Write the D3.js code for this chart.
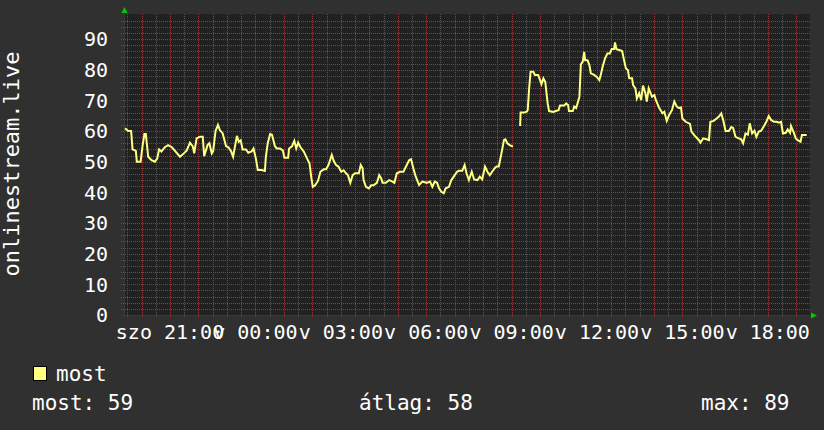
<!DOCTYPE html>
<html>
<head>
<meta charset="utf-8">
<script src="https://cdn.jsdelivr.net/npm/d3@7"></script>
<style>
	body { margin: 0; background: #303030; }
	svg { display: block; }
	text { font-family: "DejaVu Sans Mono", monospace; fill: #ffffff; }
</style>
</head>
<body>
<svg id="chart" width="824" height="430"></svg>
<script>
// minutes after the window start (szo 19:23) and the "most" value read at that time
var minutes = [2, 8, 15, 18, 25, 27, 35, 39, 43, 46, 51, 58, 65, 70, 74, 79, 86, 93, 101, 107,
	118, 126, 132, 139, 145, 148, 153, 160, 166, 169, 176, 180, 185, 188, 193, 198, 202, 208, 215, 220,
	226, 230, 238, 242, 246, 250, 257, 262, 269, 273, 278, 282, 290, 297, 299, 303, 308, 312, 318, 322,
	329, 335, 338, 346, 348, 354, 359, 363, 367, 372, 379, 386, 391, 395, 398, 403, 409, 414, 421, 426,
	431, 438, 442, 447, 452, 458, 463, 468, 472, 477, 482, 487, 495, 499, 503, 505, 510, 516, 521, 526,
	533, 538, 542, 545, 552, 559, 565, 570, 575, 582, 589, 596, 601, 605, 610, 615, 622, 629, 638, 645,
	650, 655, 660, 664, 669, 674, 678, 685, 690, 695, 702, 706, 713, 718, 722, 727, 733, 738, 745, 750,
	755, 761, 766, 771, 776, 781, 785, 790, 795, 801, 804, 808, 813, 820, 826, 835, 836, 843, 849, 851,
	854, 857, 863, 866, 873, 877, 880, 884, 888, 893, 896, 905, 910, 916, 919, 928, 932, 936, 938, 946,
	949, 953, 956, 960, 963, 967, 970, 972, 977, 981, 984, 991, 996, 1002, 1005, 1009, 1014, 1019, 1024, 1028,
	1033, 1035, 1038, 1044, 1050, 1054, 1058, 1062, 1065, 1071, 1073, 1078, 1081, 1086, 1090, 1094, 1099, 1102, 1106, 1113,
	1118, 1121, 1128, 1135, 1139, 1144, 1149, 1155, 1160, 1165, 1169, 1174, 1177, 1184, 1193, 1196, 1205, 1212, 1215, 1221,
	1228, 1233, 1236, 1243, 1249, 1254, 1259, 1263, 1268, 1275, 1280, 1284, 1289, 1296, 1301, 1305, 1310, 1315, 1319, 1324,
	1329, 1333, 1338, 1343, 1349, 1354, 1359, 1364, 1370, 1376, 1380, 1385, 1389, 1395, 1399, 1404, 1406, 1412, 1416, 1420,
	1426, 1429, 1439];
var most = [60.9, 60.1, 60.0, 54.0, 53.5, 50.0, 50.0, 55.0, 59.0, 59.0, 51.6, 50.5, 50.0, 51.0, 54.0, 53.3, 54.7, 55.4, 54.7, 53.6,
	51.6, 52.7, 53.6, 56.2, 55.0, 52.7, 57.6, 58.1, 58.1, 51.8, 55.4, 56.0, 52.7, 53.5, 60.0, 62.0, 60.3, 59.2, 55.1, 54.7,
	53.3, 51.6, 58.4, 56.5, 57.0, 54.0, 54.0, 52.9, 53.3, 54.3, 51.0, 47.3, 47.3, 47.0, 51.6, 56.0, 59.0, 58.8, 55.1, 54.3,
	54.3, 53.6, 51.3, 51.3, 54.3, 55.0, 56.8, 54.3, 56.2, 54.7, 53.3, 51.0, 49.5, 44.6, 41.8, 42.3, 43.8, 46.7, 47.5, 47.5,
	48.9, 52.2, 50.3, 48.9, 48.4, 46.7, 47.2, 46.2, 45.6, 43.1, 45.6, 46.2, 46.2, 48.9, 47.8, 44.0, 41.8, 41.3, 42.3, 42.3,
	43.1, 45.6, 44.6, 43.1, 43.1, 44.0, 43.6, 43.1, 46.2, 46.7, 46.7, 48.9, 50.5, 50.8, 47.8, 45.1, 42.4, 43.5, 43.1, 43.5,
	41.8, 43.5, 43.1, 41.3, 40.2, 39.7, 41.3, 41.8, 44.0, 45.1, 46.7, 47.0, 47.0, 48.9, 46.2, 44.0, 46.7, 44.2, 44.0, 45.1,
	44.2, 48.4, 46.7, 45.6, 46.7, 47.8, 48.4, 48.4, 52.2, 57.1, 57.3, 56.0, 55.4, 54.9, null, 61.6, 66.0, 66.0, 66.3, 66.8,
	73.9, 79.3, 79.3, 78.3, 78.3, 76.6, 75.3, 77.2, 76.0, 69.0, 66.5, 66.2, 66.5, 66.8, 68.3, 68.3, 69.0, 68.5, 66.5, 66.5,
	68.0, 67.5, 69.0, 71.2, 81.7, 82.6, 85.8, 83.1, 83.1, 81.5, 78.8, 78.3, 77.7, 76.6, 78.3, 81.0, 83.7, 85.3, 85.3, 86.7,
	86.7, 88.9, 86.7, 86.4, 86.1, 83.1, 80.4, 79.9, 77.2, 77.2, 75.0, 73.9, 70.6, 72.3, 70.1, 74.8, 72.3, 69.6, 73.9, 71.2,
	71.7, 70.1, 67.6, 65.8, 66.3, 63.3, 65.2, 66.8, 69.6, 68.0, 67.5, 67.7, 64.1, 63.0, 62.3, 59.8, 58.1, 57.0, 56.2, 57.6,
	57.3, 57.0, 63.0, 63.3, 64.1, 64.7, 65.7, 63.6, 60.0, 60.0, 61.3, 61.0, 58.1, 57.6, 57.3, 56.0, 59.2, 58.8, 62.5, 59.2,
	60.1, 58.1, 59.8, 60.1, 61.6, 63.0, 64.9, 63.6, 63.0, 63.0, 62.7, 63.0, 59.2, 59.4, 60.5, 59.4, 61.6, 59.4, 57.6, 57.0,
	56.5, 58.7, 58.7];
var yTicks = [0, 10, 20, 30, 40, 50, 60, 70, 80, 90];
var dayNames = ["v", "h", "k", "sze", "cs", "p", "szo"];
var statNames = ["most", "átlag", "max"];
var statValues = [59, 58, 89];
var seriesName = "most";
var title = "onlinestream.live";

var startTime = new Date(2024, 2, 2, 19, 23);
var endTime = d3.timeMinute.offset(startTime, 1446);

var plotLeft = 124, plotRight = 810, plotTop = 14, plotBottom = 315;
var lineColor = "#ffff80";
var minorColor = "#555555", majorColor = "#8c3c3c";

var svg = d3.select("#chart");

var x = d3.scaleTime().domain([startTime, endTime]).range([plotLeft, plotRight]);
var y = d3.scaleLinear().domain([0, 98.15]).range([plotBottom, plotTop]);

var data = minutes.map(function (m, i) {
	return { t: d3.timeMinute.offset(startTime, m), v: most[i] };
});

// plot background
svg.append("rect")
	.attr("x", plotLeft).attr("y", plotTop)
	.attr("width", plotRight - plotLeft).attr("height", plotBottom - plotTop)
	.attr("fill", "#212121");

// dotted grid lines, built pixel by pixel so every dot lands on a whole pixel
function dotsH(rows) {
	var d = "";
	rows.forEach(function (r) {
		for (var px = plotLeft - 3; px < plotRight; px += 2) d += "M" + px + "," + r + "h1v1h-1z";
	});
	return d;
}
function dotsV(cols) {
	var d = "";
	cols.forEach(function (c) {
		for (var py = plotTop; py < plotBottom + 3; py += 2) d += "M" + c + "," + py + "h1v1h-1z";
	});
	return d;
}
var grid = svg.append("g").attr("shape-rendering", "crispEdges");

// minor grid: every 2 units and every half hour
var yMinor = d3.range(2, 98, 2).filter(function (d) { return d % 10 !== 0; });
var xMinor = d3.timeMinute.every(30).range(startTime, endTime).filter(function (d) { return d.getMinutes() === 30; });
// major grid: every 10 units and every hour
var xMajor = d3.timeHour.every(1).range(startTime, endTime);

var rowOf = function (v) { return Math.round(y(v)); };
var colOf = function (t) { return Math.round(x(t)); };

grid.append("path").attr("d", dotsH(yMinor.map(rowOf)) + dotsV(xMinor.map(colOf))).attr("fill", minorColor);
grid.append("path").attr("d", dotsH(yTicks.slice(1).map(rowOf)) + dotsV(xMajor.map(colOf))).attr("fill", majorColor);

// axes
grid.append("rect")
	.attr("x", plotLeft).attr("y", plotTop - 2).attr("width", 1).attr("height", plotBottom - plotTop + 3)
	.attr("fill", "#3a3a3a");
grid.append("rect")
	.attr("x", plotLeft - 2).attr("y", plotBottom).attr("width", plotRight - plotLeft + 4).attr("height", 1)
	.attr("fill", "#3a3a3a");

svg.append("path")
	.attr("d", "M" + (plotLeft - 2.5) + "," + (plotTop - 1) + "l3,-6l3,6z")
	.attr("fill", "#00cc00");
svg.append("path")
	.attr("d", "M" + (plotRight + 1) + "," + (plotBottom - 2.5) + "l6,3l-6,3z")
	.attr("fill", "#00cc00");

// series
var line = d3.line()
	.defined(function (d) { return d.v !== null; })
	.x(function (d) { return x(d.t); })
	.y(function (d) { return y(d.v); });

svg.append("path")
	.datum(data)
	.attr("d", line)
	.attr("fill", "none")
	.attr("stroke", lineColor)
	.attr("stroke-width", 2)
	.attr("stroke-linejoin", "miter");

// tick labels
svg.selectAll("text.ylabel").data(yTicks).enter().append("text")
	.attr("x", 108)
	.attr("y", function (d) { return y(d); })
	.attr("dy", "0.36em")
	.attr("text-anchor", "end")
	.attr("font-size", 20)
	.text(function (d) { return d; });

var fmtTime = d3.timeFormat("%H:%M");
var xLabels = d3.timeHour.every(3).range(startTime, endTime);
svg.selectAll("text.xlabel").data(xLabels).enter().append("text")
	.attr("x", function (d) { return x(d); })
	.attr("y", 339)
	.attr("text-anchor", "middle")
	.attr("font-size", 20)
	.text(function (d) { return dayNames[d.getDay()] + " " + fmtTime(d); });

// vertical title
svg.append("text")
	.attr("transform", "translate(19,164) rotate(-90)")
	.attr("text-anchor", "middle")
	.attr("font-size", 22)
	.text(title);

// legend
svg.append("rect")
	.attr("x", 33.5).attr("y", 366.5).attr("width", 13).attr("height", 14)
	.attr("fill", lineColor).attr("stroke", "#000");
svg.append("text")
	.attr("x", 56).attr("y", 381)
	.attr("font-size", 21)
	.text(seriesName);

var statX = [32, 359, 701];
statNames.forEach(function (name, i) {
	svg.append("text")
		.attr("x", statX[i]).attr("y", 410)
		.attr("font-size", 21)
		.text(name + ": " + statValues[i]);
});
</script>
</body>
</html>
